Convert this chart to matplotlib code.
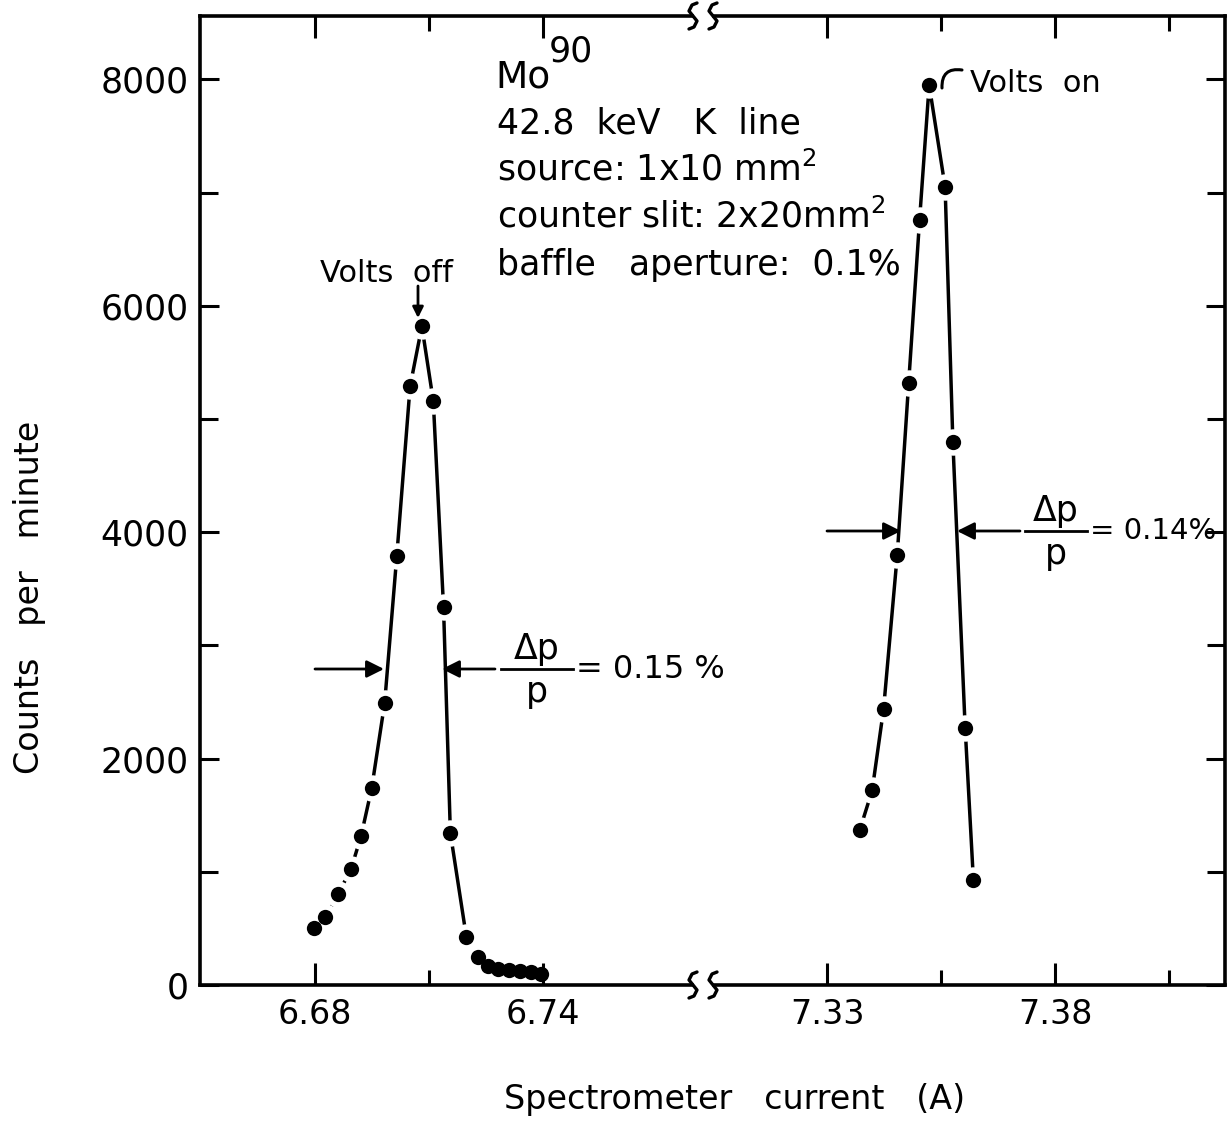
import matplotlib
matplotlib.use("Agg")
import matplotlib.pyplot as plt
from matplotlib.lines import Line2D

# --- dados ---
corrente_esq = [6.6797, 6.6827, 6.6861, 6.6895, 6.6921, 6.6949, 6.6983, 6.7015, 6.7050, 6.7081, 6.7111,
                6.7138, 6.7156, 6.7198, 6.7228, 6.7255, 6.7282, 6.7311, 6.7339, 6.7368, 6.7395]
contagens_esq = [503, 601, 805, 1029, 1316, 1740, 2490, 3792, 5289, 5819, 5160,
                 3338, 1342, 427, 247, 170, 140, 130, 125, 115, 95]

corrente_dir = [7.3372, 7.3399, 7.3424, 7.3454, 7.3479, 7.3503, 7.3524, 7.3559, 7.3576, 7.3603, 7.3621]
contagens_dir = [1372, 1720, 2437, 3800, 5316, 6760, 7950, 7050, 4800, 2270, 930]

yticks_maj = [0, 2000, 4000, 6000, 8000]
yticks_min = [1000, 3000, 5000, 7000]
xticks_esq = [6.68, 6.74]
xminor_esq = [6.71]
xticks_dir = [7.33, 7.38]
xminor_dir = [7.355, 7.405]

W, H = 1230, 1125


def fp(x, y):
    # pixel da imagem -> fração da figura
    return x / W, 1 - y / H


fig = plt.figure(figsize=(12.3, 11.25), dpi=100)
ax1 = fig.add_axes([200 / W, 1 - 985 / H, (692 - 200) / W, (985 - 16) / H])
ax2 = fig.add_axes([714 / W, 1 - 985 / H, (1225 - 714) / W, (985 - 16) / H])

ax1.set_xlim(6.6497, 6.7792)
ax2.set_xlim(7.3052, 7.4173)

for ax, xs, ys in [(ax1, corrente_esq, contagens_esq), (ax2, corrente_dir, contagens_dir)]:
    ax.patch.set_visible(False)
    ax.set_ylim(0, 8560)
    ax.plot(xs, ys, color='k', lw=2.5, zorder=2)
    ax.plot(xs, ys, 'o', ms=19, color='white', mec='none', zorder=2.1)
    ax.plot(xs, ys, 'o', ms=11, color='k', mec='none', zorder=2.2)
    ax.set_axisbelow(False)
    ax.set_yticks(yticks_maj)
    ax.set_yticks(yticks_min, minor=True)
    for s in ax.spines.values():
        s.set_linewidth(2.6)
    ax.tick_params(which='both', direction='in', width=2.2, top=True, bottom=True)
    ax.tick_params(axis='x', which='major', length=16, pad=9, labelsize=24)
    ax.tick_params(axis='x', which='minor', length=11)
    ax.tick_params(axis='y', which='major', length=14, pad=8, labelsize=25)
    ax.tick_params(axis='y', which='minor', length=13)

ax1.set_xticks(xticks_esq)
ax1.set_xticks(xminor_esq, minor=True)
ax1.set_xticklabels([f"{v:.2f}" for v in xticks_esq])
ax1.spines['right'].set_visible(False)
ax1.tick_params(axis='y', which='both', left=True, right=False)

ax2.set_xticks(xticks_dir)
ax2.set_xticks(xminor_dir, minor=True)
ax2.set_xticklabels([f"{v:.2f}" for v in xticks_dir])
ax2.spines['left'].set_visible(False)
ax2.tick_params(axis='y', which='both', left=False, right=True, labelleft=False)

# quebra do eixo: pequenos traços em S
s_dx = [4, -1, -4, 0, 4, 1, -4]
s_dy = [-13, -11, -5, 0, 5, 11, 13]
for xb in (693, 713):
    for yb in (16, 985):
        xs_, ys_ = zip(*[fp(xb + a, yb + b) for a, b in zip(s_dx, s_dy)])
        fig.add_artist(Line2D(xs_, ys_, color='k', lw=2.4, transform=fig.transFigure,
                              solid_capstyle='round'))

# rótulos dos eixos
fig.text(*fp(30, 597), 'Counts   per   minute', rotation=90, fontsize=24, ha='center', va='center')
fig.text(*fp(735, 1100), 'Spectrometer   current   (A)', fontsize=24, ha='center', va='center')

# bloco de texto
fig.text(*fp(495, 88), 'Mo', fontsize=27, ha='left', va='baseline')
fig.text(*fp(549, 61), '90', fontsize=25, ha='left', va='baseline')
linhas = ['42.8  keV   K  line', 'source: 1x10 mm$^2$', 'counter slit: 2x20mm$^2$', 'baffle   aperture:  0.1%']
for i, t in enumerate(linhas):
    fig.text(*fp(497, 133 + i * 47.5), t, fontsize=25, ha='left', va='baseline')

# Volts off / Volts on
fig.text(*fp(320, 282), 'Volts  off', fontsize=22, ha='left', va='baseline')
a = ax1.annotate('', xy=fp(418, 318), xytext=fp(418, 286), xycoords='figure fraction',
                 textcoords='figure fraction',
                 arrowprops=dict(arrowstyle='-|>', lw=2, color='k', mutation_scale=16, shrinkA=0, shrinkB=0))
a.set_clip_on(False)
fig.text(*fp(970, 92), 'Volts  on', fontsize=22, ha='left', va='baseline')
a = ax2.annotate('', xy=fp(942, 88), xytext=fp(962, 70), xycoords='figure fraction',
                 textcoords='figure fraction',
                 arrowprops=dict(arrowstyle='-', lw=2.2, color='k', shrinkA=0, shrinkB=0,
                                 connectionstyle='arc3,rad=0.6'))
a.set_clip_on(False)

# larguras Δp/p
seta = dict(arrowstyle='-|>', lw=2, color='k', mutation_scale=26, shrinkA=0, shrinkB=0)
for ax, (x0, x1), y in [(ax1, (315, 384), 669), (ax1, (495, 442), 669),
                        (ax2, (827, 901), 531), (ax2, (1020, 957), 531)]:
    a = ax.annotate('', xy=fp(x1, y), xytext=fp(x0, y), xycoords='figure fraction',
                    textcoords='figure fraction', arrowprops=seta)
    a.set_clip_on(False)

for xc, y, txt, fs, meia in [(537, 669, '= 0.15 %', 23, 36), (1056, 531, '= 0.14%', 21, 31)]:
    fig.text(*fp(xc, y - 10), 'Δp', fontsize=25, ha='center', va='baseline')
    fig.text(*fp(xc, y + 33), 'p', fontsize=25, ha='center', va='baseline')
    x_a, y_a = fp(xc - meia, y)
    x_b, _ = fp(xc + meia, y)
    fig.add_artist(Line2D([x_a, x_b], [y_a, y_a], color='k', lw=2, transform=fig.transFigure))
    fig.text(*fp(xc + meia + 3, y), txt, fontsize=fs, ha='left', va='center')

fig.savefig('out.png', dpi=100)
